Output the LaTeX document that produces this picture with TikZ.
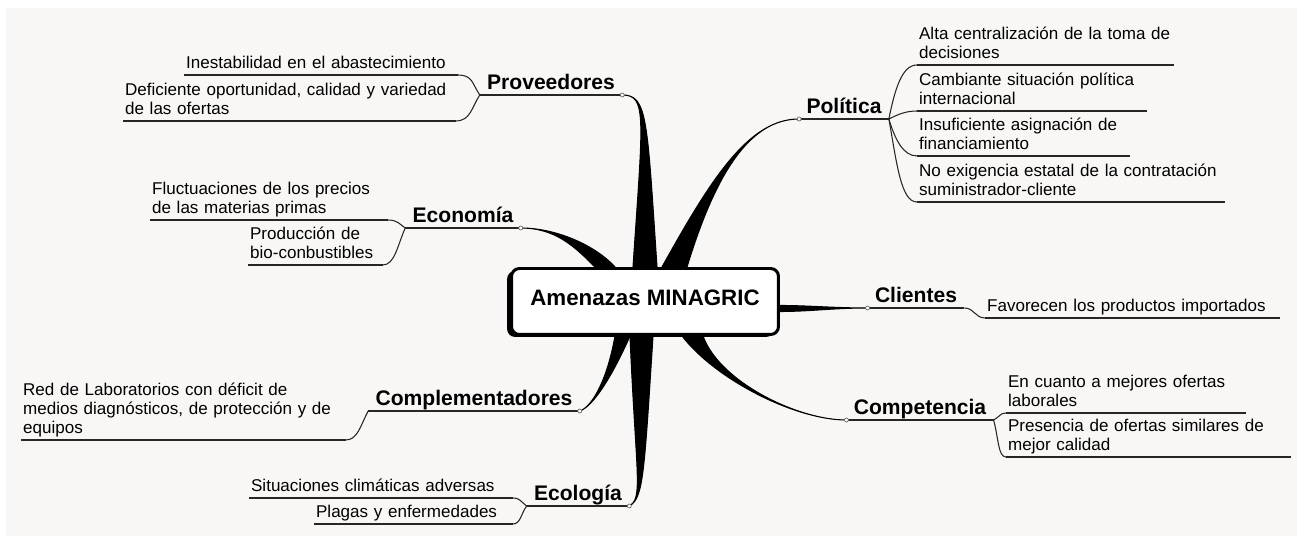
\documentclass[tikz,border=0pt]{standalone}
\usepackage{fontspec}
\setmainfont{Liberation Sans}
\usepackage{tikz}
\usetikzlibrary{calc, shadows}
\definecolor{paper}{RGB}{248,247,245}

\begin{document}
\begin{tikzpicture}[x=0.02cm, y=0.02cm,
    core/.style={rectangle, rounded corners=4.5pt, draw, line width=1.7pt, fill=white,
      minimum width=5.34cm, minimum height=1.32cm, text height=10pt, text depth=6pt,
      font=\bfseries\fontsize{12.7}{15}\selectfont,
      drop shadow={shadow xshift=-2.5pt, shadow yshift=-1.4pt, opacity=1, fill=black}},
    topic/.style={anchor=south, inner xsep=4pt, inner ysep=0.5pt, text depth=2.5pt,
      font=\bfseries\fontsize{12}{14}\selectfont},
    item/.style={anchor=south west, align=left, inner xsep=1pt, inner ysep=0pt,
      font=\fontsize{9.7}{11}\selectfont,
      execute at begin node={\hyphenpenalty=10000\exhyphenpenalty=10000},
      execute at end node=\strut},
    branch/.style={fill=black, draw=black, line width=0.6pt},
    link/.style={draw=black!85, line width=0.6pt},
    joint/.style={draw=black!60, fill=white, line width=0.4pt}
  ]
  % Sheet
  \fill[white] (0,0) rectangle (1304,-536);
  \fill[paper] (6,-8) rectangle (1297,-536);
  \useasboundingbox (0,0) rectangle (1304,-536);

  % Central idea
  \node[core] (amenazas) at (645,-301.5) {Amenazas MINAGRIC};

  % Topics
  \node[topic] (prov) at (551,-95) {Proveedores};
  \node[topic] (pol) at (844,-119) {Política};
  \node[topic] (eco) at (463,-228) {Economía};
  \node[topic] (cli) at (916,-308) {Clientes};
  \node[topic] (comp) at (920,-420) {Competencia};
  \node[topic] (compl) at (474,-411) {Complementadores};
  \node[topic] (ecol) at (578,-506) {Ecología};

  % Items, left side
  \node[item, text width=5.39cm] (p1) at (184,-75) {Inestabilidad en el abastecimiento};
  \node[item, text width=6.57cm] (p2) at (123,-121) {Deficiente oportunidad, calidad y variedad\\de las ofertas};
  \node[item, text width=4.67cm] (e1) at (150,-220) {Fluctuaciones de los precios\\de las materias primas};
  \node[item, text width=2.61cm] (e2) at (248,-265) {Producción de\\bio-conbustibles};
  \node[item, text width=6.41cm] (c1) at (21,-440) {Red de Laboratorios con déficit de\\medios diagnósticos, de protección y de\\equipos};
  \node[item, text width=5.19cm] (l1) at (249,-498) {Situaciones climáticas adversas};
  \node[item, text width=3.89cm] (l2) at (314,-524) {Plagas y enfermedades};

  % Items, right side
  \node[item, text width=5.05cm] (a1) at (917,-65) {Alta centralización de la toma de\\decisiones};
  \node[item, text width=4.51cm] (a2) at (917,-111) {Cambiante situación política\\internacional};
  \node[item, text width=4.17cm] (a3) at (917,-156) {Insuficiente asignación de\\financiamiento};
  \node[item, text width=6.07cm] (a4) at (917,-202) {No exigencia estatal de la contratación\\suministrador-cliente};
  \node[item, text width=5.81cm] (k1) at (985,-318) {Favorecen los productos importados};
  \node[item, text width=4.71cm] (m1) at (1006,-413) {En cuanto a mejores ofertas\\laborales};
  \node[item, text width=5.61cm] (m2) at (1006,-457) {Presencia de ofertas similares de\\mejor calidad};

  % Branches out of the central idea
  \filldraw[branch] ($(amenazas.north)+(-12,0)$) .. controls +(10,150) and +(25,0) .. (prov.south east)
    .. controls +(25,0) and +(-10,150) .. ($(amenazas.north)+(12,0)$) -- cycle;
  \filldraw[branch] ($(amenazas.north)+(17,0)$) .. controls +(50,90) and +(-50,0) .. (pol.south west)
    .. controls +(-50,0) and +(28,92) .. ($(amenazas.north)+(42,0)$) -- cycle;
  \filldraw[branch] ($(amenazas.north)+(-50,0)$) .. controls +(-20,20) and +(35,0) .. (eco.south east)
    .. controls +(35,0) and +(-20,22) .. ($(amenazas.north)+(-30,0)$) -- cycle;
  \filldraw[branch] ($(amenazas.east)+(0,-4)$) .. controls +(30,0) and +(-35,0) .. (cli.south west)
    .. controls +(-35,0) and +(30,0) .. ($(amenazas.east)+(0,-10)$) -- cycle;
  \filldraw[branch] ($(amenazas.south)+(37,0)$) .. controls +(35,-45) and +(-50,0) .. (comp.south west)
    .. controls +(-50,0) and +(16,-45) .. ($(amenazas.south)+(58,0)$) -- cycle;
  \filldraw[branch] ($(amenazas.south)+(-30,0)$) .. controls +(-8,-45) and +(12,4) .. (compl.south east)
    .. controls +(12,4) and +(-20,-45) .. ($(amenazas.south)+(-15,0)$) -- cycle;
  \filldraw[branch] ($(amenazas.south)+(-15,0)$) .. controls +(6,-140) and +(14,8) .. (ecol.south east)
    .. controls +(14,8) and +(-9,-140) .. ($(amenazas.south)+(8,0)$) -- cycle;

  % Underlines
  \foreach \n in {prov,pol,eco,cli,comp,compl,ecol,p1,p2,e1,e2,c1,l1,l2,a1,a2,a3,a4,k1,m1,m2}
    \draw[link] (\n.south west) -- (\n.south east);

  % Topics to items
  \draw[link] (prov.south west) .. controls +(-8,12) and +(15,0) .. (p1.south east);
  \draw[link] (prov.south west) .. controls +(-8,-12) and +(15,0) .. (p2.south east);
  \draw[link] (eco.south west) .. controls +(-6,4) and +(10,0) .. (e1.south east);
  \draw[link] (eco.south west) .. controls +(-8,-18) and +(12,0) .. (e2.south east);
  \draw[link] (compl.south west) .. controls +(-8,-15) and +(12,0) .. (c1.south east);
  \draw[link] (ecol.south west) .. controls +(-6,4) and +(8,0) .. (l1.south east);
  \draw[link] (ecol.south west) .. controls +(-6,-8) and +(8,0) .. (l2.south east);
  \draw[link] (pol.south east) .. controls +(6,30) and +(-15,0) .. (a1.south west);
  \draw[link] (pol.south east) .. controls +(8,4) and +(-12,0) .. (a2.south west);
  \draw[link] (pol.south east) .. controls +(6,-20) and +(-14,0) .. (a3.south west);
  \draw[link] (pol.south east) .. controls +(8,-45) and +(-16,0) .. (a4.south west);
  \draw[link] (cli.south east) .. controls +(10,0) and +(-10,0) .. (k1.south west);
  \draw[link] (comp.south east) .. controls +(6,3) and +(-6,0) .. (m1.south west);
  \draw[link] (comp.south east) .. controls +(5,-18) and +(-8,0) .. (m2.south west);

  % Joints
  \foreach \j in {prov.south east, pol.south west, eco.south east, cli.south west,
      comp.south west, compl.south east, ecol.south east}
    \filldraw[joint] (\j) circle (2);
\end{tikzpicture}
\end{document}
